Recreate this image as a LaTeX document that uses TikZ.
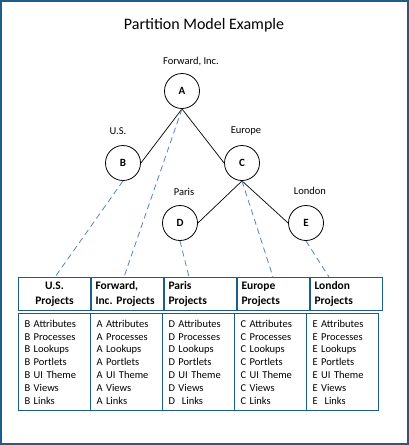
\documentclass[tikz,border=0pt]{standalone}
\usepackage{fontspec}
\setmainfont{Carlito}
\usetikzlibrary{positioning}

\definecolor{framecol}{RGB}{28,94,138}
\definecolor{linkcol}{RGB}{84,130,196}

\tikzset{
  org/.style={circle, draw, line width=0.8pt, minimum size=35pt, inner sep=0pt,
    font=\fontsize{11}{13}\selectfont\bfseries},
  tag/.style={inner sep=0pt, font=\fontsize{10.5}{12}\selectfont},
  tree/.style={line width=0.7pt},
  link/.style={draw=linkcol, dash pattern=on 6pt off 4pt, line width=0.8pt},
  hcell/.style={draw=framecol, line width=1pt, anchor=north west,
    minimum width=72pt, minimum height=33pt, inner xsep=4pt, inner ysep=0pt,
    text width=64pt, align=left, font=\fontsize{11.5}{15}\selectfont\bfseries},
  bcell/.style={draw=framecol, line width=1pt, anchor=north west,
    minimum width=72pt, minimum height=97pt, inner xsep=6pt, inner ysep=0pt,
    text width=60pt, align=left, font=\fontsize{10.5}{12.8}\selectfont}
}

\begin{document}
\begin{tikzpicture}[x=1pt, y=-1pt]

  % frame and title
  \useasboundingbox (0,0) rectangle (409,445);
  \draw[framecol, line width=1.2pt] (1,1) rectangle (408,444);
  \node[inner sep=0pt, font=\fontsize{16}{18}\selectfont] (title) at (204,25) {Partition Model Example};

  % organisation tree
  \node[org] (A) at (182,91) {A};
  \node[org] (B) at (123,163) {B};
  \node[org] (C) at (242,163) {C};
  \node[org] (D) at (180,223) {D};
  \node[org] (E) at (306,223) {E};

  \node[tag] (lA) at (191,62) {Forward, Inc.};
  \node[tag] (lB) at (118,131) {U.S.};
  \node[tag] (lC) at (246,131) {Europe};
  \node[tag] (lD) at (184,192) {Paris};
  \node[tag] (lE) at (310,191) {London};

  \draw[tree] (A.south) -- (B.east);
  \draw[tree] (A.south) -- (C.west);
  \draw[tree] (C.south) -- (D.east);
  \draw[tree] (C.south) -- (E.west);

  % project header row
  \node[hcell, align=center] (hus) at (18,277) {U.S.\\Projects};
  \node[hcell] (hfwd) at (hus.north east) {Forward,\\Inc.\ Projects};
  \node[hcell] (hpar) at (hfwd.north east) {Paris\\Projects};
  \node[hcell] (heur) at (hpar.north east) {Europe\\Projects};
  \node[hcell] (hlon) at (heur.north east) {London\\Projects};

  % project contents
  \foreach \ltr/\gap [count=\i from 0] in {B/{},A/{},D/{\ },C/{},E/{\ }}
    \node[bcell] (b\ltr) at (18+72*\i,313)
      {\ltr{} Attributes\\\ltr{} Processes\\\ltr{} Lookups\\\ltr{} Portlets\\
       \ltr{} UI Theme\\\ltr{} Views\\\ltr{}\gap\ Links};

  % where each organisation's projects live
  \coordinate (tus) at (55,277);
  \coordinate (tfwd) at (124,277);
  \coordinate (tpar) at (189,277);
  \coordinate (teur) at (273,277);
  \coordinate (tlon) at (329,277);

  \draw[link] (B.south) -- (tus);
  \draw[link] (A.south) -- (tfwd);
  \draw[link] (D.south) -- (tpar);
  \draw[link] (C.south) -- (teur);
  \draw[link] (E.south) -- (tlon);

\end{tikzpicture}
\end{document}
